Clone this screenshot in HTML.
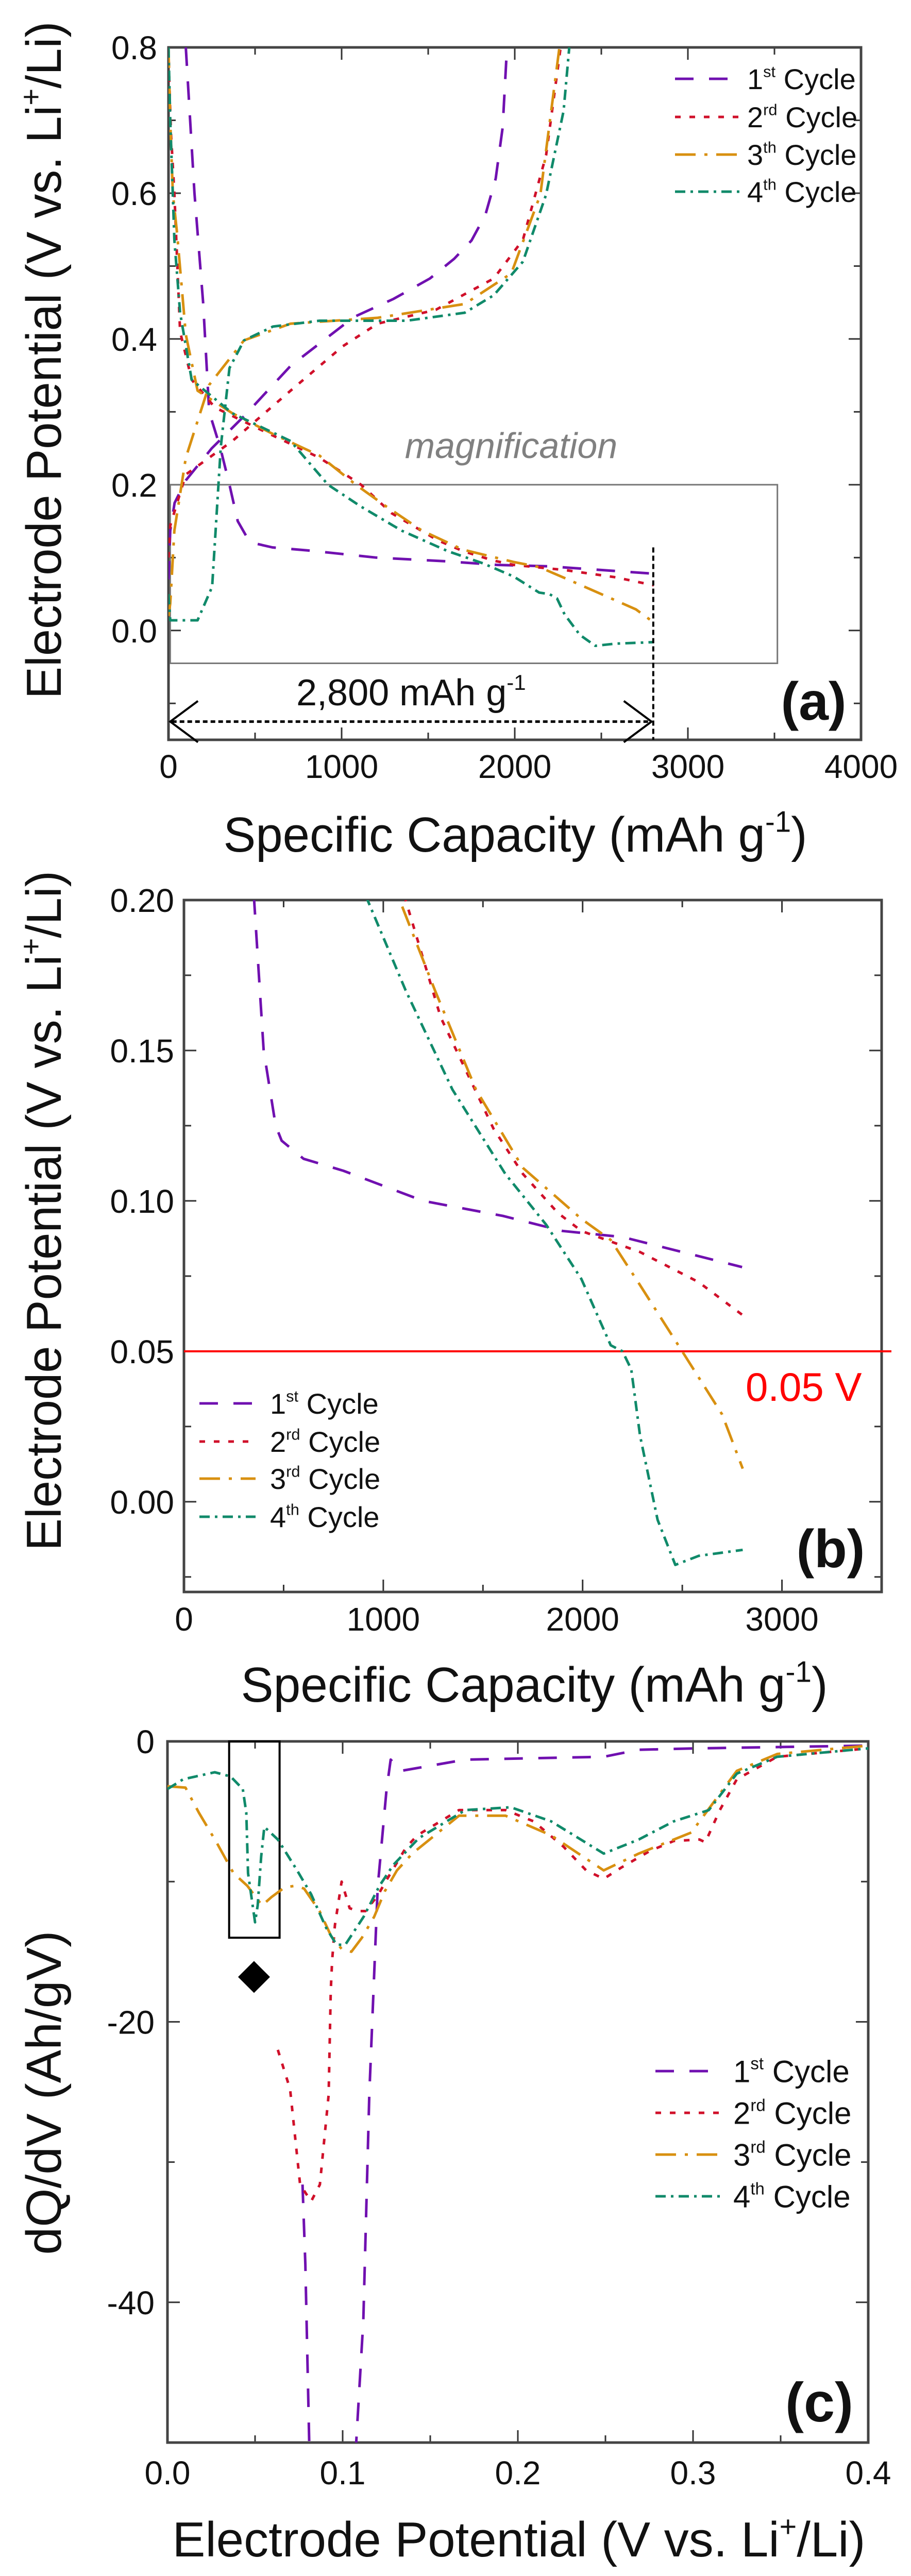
<!DOCTYPE html>
<html><head><meta charset="utf-8"><title>Electrode potential charts</title>
<style>html,body{margin:0;padding:0;background:#fff;width:1768px;height:5010px;overflow:hidden}svg{display:block}text{font-family:"Liberation Sans",Arial,sans-serif}</style>
</head><body>
<svg id="fig" xmlns="http://www.w3.org/2000/svg" width="1768" height="5010" viewBox="0 0 1768 5010" overflow="hidden">
<defs>
<clipPath id="clipA"><rect x="327" y="92" width="1344" height="1344"/></clipPath>
<clipPath id="clipB"><rect x="357" y="1747" width="1354" height="1343"/></clipPath>
<clipPath id="clipC"><rect x="325" y="3380" width="1360" height="1361"/></clipPath>
</defs>
</svg>
<script>
// ---- Panel (a)/(b) data: capacity (mAh/g) and potential (V) ----
const c1DisCap=[100,150,200,235,300,352,400,460,490,600,800,1000,1200,1600,1900,2200,2500,2800];
const c1DisV=[0.8,0.6,0.45,0.3,0.25,0.2,0.15,0.125,0.12,0.114,0.11,0.105,0.1,0.095,0.09,0.088,0.083,0.078];
const c1ChgCap=[0,10,35,100,250,436,705,1070,1300,1510,1650,1750,1830,1890,1930,1955];
const c1ChgV=[0.07,0.137,0.175,0.206,0.25,0.294,0.363,0.43,0.455,0.483,0.51,0.535,0.57,0.62,0.69,0.8];
const c2DisCap=[0,5,15,34,67,134,268,537,872,1112,1288,1553,1700,1876,1994,2288,2582,2803];
const c2DisV=[0.8,0.75,0.68,0.6,0.41,0.344,0.306,0.275,0.237,0.2,0.161,0.124,0.109,0.096,0.09,0.083,0.073,0.062];
const c2ChgCap=[0,10,100,369,705,1007,1208,1544,1879,2047,2181,2265];
const c2ChgV=[0.1,0.144,0.214,0.26,0.329,0.39,0.421,0.44,0.483,0.536,0.652,0.8];
const c3DisCap=[0,10,25,50,100,168,369,600,872,1082,1259,1465,1700,1994,2141,2288,2509,2700,2803];
const c3DisV=[0.8,0.7,0.6,0.544,0.406,0.329,0.298,0.27,0.24,0.2,0.17,0.137,0.111,0.094,0.087,0.072,0.049,0.029,0.011];
const c3ChgCap=[0,10,34,100,235,436,705,1208,1711,1980,2148,2258];
const c3ChgV=[0.02,0.037,0.137,0.237,0.337,0.398,0.421,0.429,0.448,0.49,0.598,0.8];
const c4DisCap=[0,10,34,67,134,369,705,921,1112,1347,1612,1818,1994,2141,2200,2244,2288,2376,2465,2582,2803];
const c4DisV=[0.8,0.7,0.536,0.436,0.344,0.298,0.26,0.2,0.17,0.137,0.109,0.092,0.074,0.052,0.05,0.044,0.022,-0.006,-0.021,-0.018,-0.016];
const c4ChgCap=[0,10,168,252,302,352,436,604,872,1376,1711,1879,2047,2181,2282,2315];
const c4ChgV=[0.05,0.014,0.014,0.06,0.252,0.36,0.398,0.417,0.425,0.425,0.436,0.46,0.506,0.598,0.713,0.8];
// ---- Panel (c) data: potential (V) and dQ/dV (Ah/gV) ----
const c1dqV=[0.0771,0.0787,0.081,0.1075,0.1118,0.1152,0.12,0.125,0.1274,0.1334,0.17,0.249,0.269,0.302,0.4];
const c1dqQ=[-31.6,-37.3,-50.5,-50.5,-41.3,-25.2,-10.4,-3.5,-1.3,-2.1,-1.3,-1.1,-0.6,-0.5,-0.3];
const c2dqV=[0.063,0.070,0.0757,0.082,0.087,0.092,0.0932,0.094,0.0956,0.0994,0.104,0.109,0.113,0.12,0.125,0.136,0.1426,0.1664,0.193,0.209,0.226,0.239,0.249,0.259,0.2756,0.289,0.3037,0.307,0.3153,0.325,0.348,0.4];
const c2dqQ=[-22,-24.8,-31.6,-32.8,-31.6,-25.2,-17.8,-15.6,-13.1,-10,-11.9,-12.1,-12.1,-11,-9.9,-7.6,-6.7,-4.9,-4.9,-5.7,-7.5,-9.2,-9.8,-9,-7.8,-7.1,-7,-7.2,-4.9,-2.7,-1.1,-0.5];
const c3dqV=[0,0.0103,0.018,0.028,0.0377,0.0456,0.054,0.0594,0.067,0.073,0.078,0.0868,0.0935,0.0994,0.105,0.111,0.118,0.124,0.131,0.1397,0.1664,0.193,0.219,0.249,0.269,0.299,0.325,0.348,0.4];
const c3dqQ=[-3.2,-3.3,-5.1,-7.2,-9.4,-10.3,-11.7,-11.1,-10.4,-10.3,-10.5,-12.1,-13.9,-14.8,-15,-14,-12.5,-10.7,-9.2,-8,-5.3,-5.3,-6.7,-9.2,-8,-6.5,-2.1,-0.9,-0.3];
const c4dqV=[0,0.009,0.027,0.036,0.043,0.045,0.046,0.05,0.0515,0.0535,0.0553,0.063,0.074,0.082,0.0906,0.0965,0.1015,0.112,0.121,0.129,0.1435,0.17,0.196,0.219,0.249,0.269,0.289,0.309,0.325,0.348,0.4];
const c4dqQ=[-3.4,-2.7,-2.2,-2.5,-3.4,-5.1,-9.4,-12.9,-11.7,-8.2,-6.1,-7,-9.2,-10.9,-13.3,-14.5,-14.5,-12.5,-10.3,-8.8,-6.9,-4.9,-4.7,-5.7,-8,-7,-5.7,-4.9,-2.3,-1.1,-0.5];
// tick labels
const aXTicks=[0,1000,2000,3000,4000];
const aYTicks=[0.0,0.2,0.4,0.6,0.8];
const bXTicks=[0,1000,2000,3000];
const bYTicks=[0.00,0.05,0.10,0.15,0.20];
const cXTicks=[0.0,0.1,0.2,0.3,0.4];
const cYTicks=[0,-20,-40];

const NS="http://www.w3.org/2000/svg";
const svg=document.getElementById('fig');
const COL=['#7010b0','#d0102a','#d89010','#108a6a'];
const DASH=['36 30','11 17','40 17 6 17','20 10 5 10'];
function el(tag,attrs,parent){const e=document.createElementNS(NS,tag);for(const k in attrs)e.setAttribute(k,attrs[k]);(parent||svg).appendChild(e);return e;}
function lin(d0,d1,p0,p1){return v=>p0+(v-d0)/(d1-d0)*(p1-p0);}
function pathD(xs,ys,sx,sy){return xs.map((x,i)=>(i?'L':'M')+sx(x).toFixed(1)+' '+sy(ys[i]).toFixed(1)).join(' ');}

function frame(g,L,T,R,B,sx,sy,xMaj,xMin,yMaj,yMin,xLabels,yLabels,fmtX,fmtY,labY,labXEnd,fs){
  const ax=el('g',{},g);
  
  
  xMin.forEach(v=>{const x=sx(v);const len=xMaj.includes(v)?24:14;
    el('line',{x1:x,y1:B,x2:x,y2:B-len,stroke:'#333','stroke-width':3},ax);
    el('line',{x1:x,y1:T,x2:x,y2:T+len,stroke:'#333','stroke-width':3},ax);});
  yMin.forEach(v=>{const y=sy(v);const len=yMaj.includes(v)?24:14;
    el('line',{x1:L,y1:y,x2:L+len,y2:y,stroke:'#333','stroke-width':3},ax);
    el('line',{x1:R,y1:y,x2:R-len,y2:y,stroke:'#333','stroke-width':3},ax);});
  el('rect',{x:L,y:T,width:R-L,height:B-T,fill:'none',stroke:'#444','stroke-width':5},ax);
  xLabels.forEach(v=>{const t=el('text',{x:sx(v),y:labY,'text-anchor':'middle','font-size':fs,fill:'#111'},ax);t.textContent=fmtX(v);
    
    });
  yLabels.forEach(v=>{const t=el('text',{x:labXEnd,y:sy(v)+fs*0.36,'text-anchor':'end','font-size':fs,fill:'#111'},ax);t.textContent=fmtY(v);
    
    });
}
function series(g,xs,ys,sx,sy,i,clip,name){
  const p=el('path',{d:pathD(xs,ys,sx,sy),fill:'none',stroke:COL[i],'stroke-width':5,'stroke-dasharray':DASH[i],'stroke-linejoin':'round','clip-path':'url(#'+clip+')'},g);
  
  
}
function legend(g,x1,x2,tx,ys,fs,labels){
  const lg=el('g',{},g);
  
  
  labels.forEach((lab,i)=>{
    el('line',{x1:x1,y1:ys[i],x2:x2,y2:ys[i],stroke:COL[i],'stroke-width':5,'stroke-dasharray':DASH[i]},lg);
    const t=el('text',{x:tx,y:ys[i]+fs*0.36,'font-size':fs,fill:'#111'},lg);
    
    
    const a=el('tspan',{},t);a.textContent=lab[0];
    const s=el('tspan',{dy:-fs*0.42,'font-size':fs*0.55},t);s.textContent=lab[1];
    const c=el('tspan',{dy:fs*0.42},t);c.textContent=' Cycle';
  });
}
function text(g,str,attrs,name){const t=el('text',attrs,g);t.textContent=str;
  
  return t;}
function gtitle(g,x,y,rot,len,fs,name,pre,sup,post){
  const t=el('text',{x:x,y:y,'font-size':fs,'text-anchor':'middle',fill:'#111',textLength:len,lengthAdjust:'spacingAndGlyphs',transform:rot?('rotate(-90 '+x+' '+y+')'):''},g);
  
  
  const a=el('tspan',{},t);a.textContent=pre;
  const s=el('tspan',{dy:-fs*0.4,'font-size':fs*0.6},t);s.textContent=sup;
  const b=el('tspan',{dy:fs*0.4},t);b.textContent=post;
}

// ===== Panel A =====
(function(){
  const g=el('g',{});
  const L=327,R=1671,T=92,B=1436;
  const sx=lin(0,4000,L,R), sy=lin(0.8,-0.15,T,B);
  frame(g,L,T,R,B,sx,sy,[0,1000,2000,3000,4000],[0,500,1000,1500,2000,2500,3000,3500,4000],[0,0.2,0.4,0.6,0.8],[-0.1,0,0.1,0.2,0.3,0.4,0.5,0.6,0.7,0.8],aXTicks,aYTicks,v=>String(v),v=>v.toFixed(1),1510,305,64);
  const mb=el('rect',{x:sx(10),y:sy(0.2),width:sx(3517)-sx(10),height:sy(-0.045)-sy(0.2),fill:'none',stroke:'#777','stroke-width':3},g);
  
  
  text(g,'magnification',{x:992,y:889,'font-size':70,'font-style':'italic',fill:'#808080','text-anchor':'middle'},'magnification-label');
  series(g,c1DisCap,c1DisV,sx,sy,0,'clipA','cycle1-discharge');
  series(g,c1ChgCap,c1ChgV,sx,sy,0,'clipA','cycle1-charge');
  series(g,c2DisCap,c2DisV,sx,sy,1,'clipA','cycle2-discharge');
  series(g,c2ChgCap,c2ChgV,sx,sy,1,'clipA','cycle2-charge');
  series(g,c3DisCap,c3DisV,sx,sy,2,'clipA','cycle3-discharge');
  series(g,c3ChgCap,c3ChgV,sx,sy,2,'clipA','cycle3-charge');
  series(g,c4DisCap,c4DisV,sx,sy,3,'clipA','cycle4-discharge');
  series(g,c4ChgCap,c4ChgV,sx,sy,3,'clipA','cycle4-charge');
  const vl=el('line',{x1:sx(2800),y1:sy(0.114),x2:sx(2800),y2:B,stroke:'#000','stroke-width':4,'stroke-dasharray':'10 6'},g);
  
  
  const ay=sy(-0.125);
  const ar=el('g',{},g);
  
  
  el('line',{x1:sx(20),y1:ay,x2:sx(2780),y2:ay,stroke:'#000','stroke-width':5,'stroke-dasharray':'9 6'},ar);
  el('path',{d:`M${sx(170)} ${ay-40} L${sx(10)} ${ay} L${sx(170)} ${ay+40}`,fill:'none',stroke:'#000','stroke-width':4},ar);
  el('path',{d:`M${sx(2630)} ${ay-40} L${sx(2790)} ${ay} L${sx(2630)} ${ay+40}`,fill:'none',stroke:'#000','stroke-width':4},ar);
  const ct=el('text',{x:575,y:1369,'font-size':72,fill:'#111'},g);
  
  
  ct.innerHTML='2,800 mAh  g<tspan dy="-30" font-size="42">-1</tspan>';
  text(g,'(a)',{x:1579,y:1397,'font-size':104,'font-weight':'bold','text-anchor':'middle',fill:'#111'},'panel-label-a');
  legend(g,1310,1435,1450,[153,227,300,372],56,[['1','st'],['2','rd'],['3','th'],['4','th']]);
  gtitle(g,1000,1653,false,1133,96,'x-axis-title','Specific Capacity (mAh g','-1',')');
  gtitle(g,118,699,true,1315,96,'y-axis-title','Electrode Potential (V vs. Li','+','/Li)');
})();

// ===== Panel B =====
(function(){
  const g=el('g',{});
  const L=357,R=1711,T=1747,B=3090;
  const sx=lin(0,3500,L,R), sy=lin(0.2,-0.03,T,B);
  frame(g,L,T,R,B,sx,sy,[0,1000,2000,3000],[0,500,1000,1500,2000,2500,3000,3500],[0,0.05,0.1,0.15,0.2],[-0.025,0,0.025,0.05,0.075,0.1,0.125,0.15,0.175,0.2],bXTicks,bYTicks,v=>String(v),v=>v.toFixed(2),3165,338,64);
  const rl=el('line',{x1:L,y1:sy(0.05),x2:1730,y2:sy(0.05),stroke:'#ff0000','stroke-width':4},g);
  
  
  text(g,'0.05 V',{x:1447,y:2719,'font-size':78,fill:'#ff0000'},'threshold-label');
  series(g,c1DisCap,c1DisV,sx,sy,0,'clipB','cycle1-discharge');
  series(g,c2DisCap,c2DisV,sx,sy,1,'clipB','cycle2-discharge');
  series(g,c3DisCap,c3DisV,sx,sy,2,'clipB','cycle3-discharge');
  series(g,c4DisCap,c4DisV,sx,sy,3,'clipB','cycle4-discharge');
  text(g,'(b)',{x:1612,y:3042,'font-size':104,'font-weight':'bold','text-anchor':'middle',fill:'#111'},'panel-label-b');
  legend(g,387,496,524,[2724,2798,2870,2944],56,[['1','st'],['2','rd'],['3','rd'],['4','th']]);
  gtitle(g,1037,3303,false,1139,96,'x-axis-title','Specific Capacity (mAh g','-1',')');
  gtitle(g,118,2350,true,1320,96,'y-axis-title','Electrode Potential (V vs. Li','+','/Li)');
})();

// ===== Panel C =====
(function(){
  const g=el('g',{});
  const L=325,R=1685,T=3380,B=4741;
  const sx=lin(0,0.4,L,R), sy=lin(0,-50,T,B);
  frame(g,L,T,R,B,sx,sy,[0,0.1,0.2,0.3,0.4],[0,0.05,0.1,0.15,0.2,0.25,0.3,0.35,0.4],[0,-20,-40],[0,-10,-20,-30,-40,-50],cXTicks,cYTicks,v=>v.toFixed(1),v=>String(v),4822,300,64);
  const zb=el('rect',{x:sx(0.0352),y:sy(0),width:sx(0.064)-sx(0.0352),height:sy(-14)-sy(0),fill:'none',stroke:'#000','stroke-width':4},g);
  
  
  const dx=sx(0.0494),dy=sy(-16.8);
  const dm=el('path',{d:`M${dx} ${dy-31} L${dx+31} ${dy} L${dx} ${dy+31} L${dx-31} ${dy} Z`,fill:'#000'},g);
  
  
  series(g,c1dqV,c1dqQ,sx,sy,0,'clipC','cycle1-dqdv');
  series(g,c2dqV,c2dqQ,sx,sy,1,'clipC','cycle2-dqdv');
  series(g,c3dqV,c3dqQ,sx,sy,2,'clipC','cycle3-dqdv');
  series(g,c4dqV,c4dqQ,sx,sy,3,'clipC','cycle4-dqdv');
  text(g,'(c)',{x:1590,y:4700,'font-size':108,'font-weight':'bold','text-anchor':'middle',fill:'#111'},'panel-label-c');
  legend(g,1272,1404,1423,[4020,4101,4182,4263],60,[['1','st'],['2','rd'],['3','rd'],['4','th']]);
  gtitle(g,1007,4962,false,1345,96,'x-axis-title','Electrode Potential (V vs. Li','+','/Li)');
  gtitle(g,118,4062,true,629,96,'y-axis-title','dQ/dV (Ah/gV)','','');
})();
</script>
</body></html>
